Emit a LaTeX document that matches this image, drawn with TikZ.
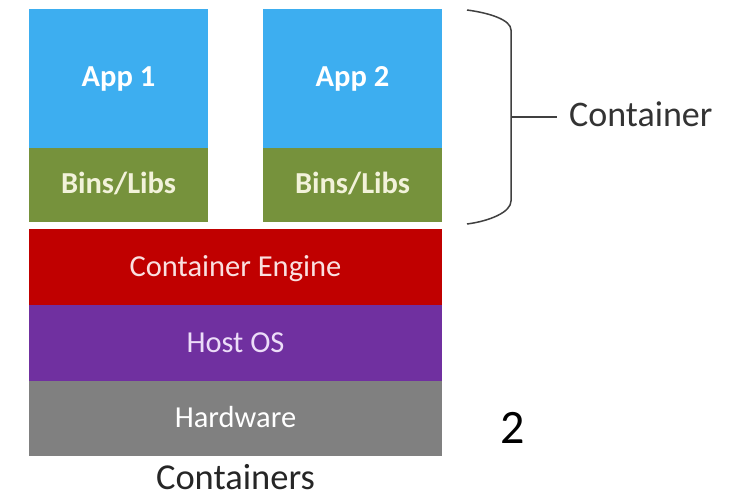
\documentclass[tikz,border=0pt]{standalone}
\usepackage{fontspec}
\setmainfont{Carlito}
\definecolor{appblue}{HTML}{3DAEF0}
\definecolor{libgreen}{HTML}{76923C}
\definecolor{engred}{HTML}{C00000}
\definecolor{ospurple}{HTML}{7030A0}
\definecolor{hwgray}{HTML}{808080}
\definecolor{libtext}{HTML}{F2F2DA}
\definecolor{engtext}{HTML}{FAE0E0}
\definecolor{ostext}{HTML}{ECDDF8}
\definecolor{bracegray}{HTML}{404040}
\begin{document}
\begin{tikzpicture}[x=1pt,y=-1pt,
  boldlbl/.style={anchor=base,inner sep=0pt,font=\fontsize{30.5}{30.5}\selectfont\bfseries,text=#1},
  reglbl/.style={anchor=base,inner sep=0pt,font=\fontsize{30.5}{30.5}\selectfont,text=#1}]
\useasboundingbox (0,0) rectangle (738,496);
\fill[white] (0,0) rectangle (738,496);

% application stacks
\fill[appblue]  (29,9)   rectangle (208,148);
\fill[libgreen] (29,148) rectangle (208,222);
\fill[appblue]  (263,9)   rectangle (442,148);
\fill[libgreen] (263,148) rectangle (442,222);
\node[boldlbl=white] (app1) at (118.5,86) {App 1};
\node[boldlbl=libtext] (libs1) at (118.5,193) {Bins/Libs};
\node[boldlbl=white] (app2) at (352.5,86) {App 2};
\node[boldlbl=libtext] (libs2) at (352.5,193) {Bins/Libs};

% shared layers
\fill[engred]   (29,229) rectangle (442,305);
\fill[ospurple] (29,305) rectangle (442,381);
\fill[hwgray]   (29,381) rectangle (442,456);
\node[reglbl=engtext] (engine) at (235.5,276) {Container Engine};
\node[reglbl=ostext] (hostos) at (235.5,352) {Host OS};
\node[reglbl=white] (hw) at (235.5,427) {Hardware};

% brace around the containers
\draw[bracegray,line width=1.5pt]
  (467,10) .. controls (490,13) and (511,20) .. (511,30)
  -- (511,201) .. controls (511,212) and (490,221) .. (467,224);
\coordinate (bracemid) at (511,117);
\node[anchor=base west,inner sep=0pt,font=\fontsize{36}{36}\selectfont,text=black!80] (ctr) at (569,126) {Container};
\draw[bracegray,line width=1.5pt] (bracemid) -- (557,117);

\node[anchor=base,inner sep=0pt,font=\fontsize{36.5}{36.5}\selectfont,text=black!85] (caption) at (235.5,489) {Containers};
\node[anchor=base,inner sep=0pt,font=\fontsize{48}{48}\selectfont] (num) at (513,443) {2};
\end{tikzpicture}
\end{document}
